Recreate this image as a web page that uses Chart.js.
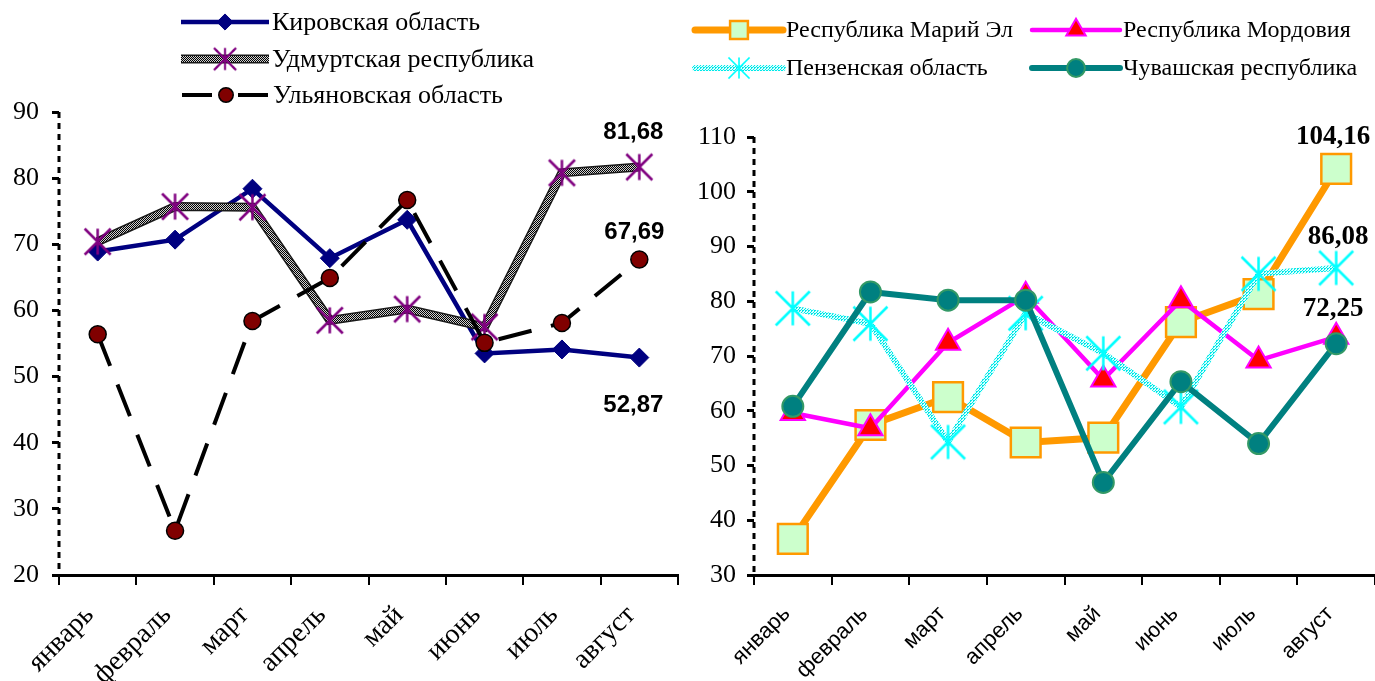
<!DOCTYPE html>
<html>
<head>
<meta charset="utf-8">
<script src="https://cdn.jsdelivr.net/npm/chart.js@4.4.1/dist/chart.umd.min.js"></script>
<style>
  html, body { margin: 0; padding: 0; background: #fff; }
  #wrap { position: relative; width: 1375px; height: 681px; overflow: hidden; }
  #left { position: absolute; left: 0; top: 0; width: 690px; height: 681px; }
  #right { position: absolute; left: 690px; top: 0; width: 685px; height: 681px; }
</style>
</head>
<body>
<div id="wrap">
  <div id="left"><canvas id="leftChart"></canvas></div>
  <div id="right"><canvas id="rightChart"></canvas></div>
</div>
<script>
// Categories
const months = ['январь', 'февраль', 'март', 'апрель', 'май', 'июнь', 'июль', 'август'];

// Left chart series
const kirov = [68.9, 70.7, 78.4, 67.9, 73.7, 53.5, 54.1, 52.87];
const udmurt = [70.4, 75.7, 75.6, 58.5, 60.2, 57.5, 80.8, 81.68];
const ulyanovsk = [56.4, 26.7, 58.4, 64.9, 76.7, 55.1, 58.1, 67.69];

// Right chart series
const mariEl = [36.6, 57.4, 62.5, 54.2, 55.1, 76.2, 81.3, 104.16];
const mordovia = [59.6, 56.8, 72.4, 81.0, 65.7, 80.2, 69.2, 73.5];
const penza = [78.7, 75.9, 54.3, 77.8, 70.5, 60.7, 85.0, 86.08];
const chuvash = [60.8, 81.7, 80.2, 80.2, 46.9, 65.3, 54.0, 72.25];

// Series names
const leftNames = ['Кировская область', 'Удмуртская республика', 'Ульяновская область'];
const rightNames = ['Республика Марий Эл', 'Республика Мордовия', 'Пензенская область', 'Чувашская республика'];

// Y axis ranges
const leftY = { min: 20, max: 90, step: 10 };
const rightY = { min: 30, max: 110, step: 10 };

// Small textures for the hatched lines
function texture(on, off, cells) {
  const n = cells.length;
  const p = document.createElement('canvas');
  p.width = n; p.height = n;
  const g = p.getContext('2d');
  g.fillStyle = off; g.fillRect(0, 0, n, n);
  g.fillStyle = on;
  cells.forEach((row, y) => row.forEach((v, x) => { if (v) g.fillRect(x, y, 1, 1); }));
  return g.createPattern(p, 'repeat');
}

// Asterisk marker: vertical stroke plus an X
function asterisk(color, s, lw) {
  const c = document.createElement('canvas');
  const size = Math.ceil(2 * s + lw + 2);
  c.width = size; c.height = size;
  const g = c.getContext('2d');
  const m = size / 2;
  g.strokeStyle = color; g.lineWidth = lw;
  g.beginPath();
  g.moveTo(m, m - s); g.lineTo(m, m + s);
  g.moveTo(m - s, m - s); g.lineTo(m + s, m + s);
  g.moveTo(m + s, m - s); g.lineTo(m - s, m + s);
  g.stroke();
  return c;
}

function drawMarker(ctx, ds, x, y, scale) {
  if (!ds.pointStyle || ds.pointRadius === 0) return;
  ctx.save();
  ctx.setLineDash([]);
  if (ds.pointStyle instanceof HTMLCanvasElement) {
    const w = ds.pointStyle.width * scale, h = ds.pointStyle.height * scale;
    ctx.drawImage(ds.pointStyle, x - w / 2, y - h / 2, w, h);
  } else {
    ctx.fillStyle = ds.pointBackgroundColor;
    ctx.strokeStyle = ds.pointBorderColor;
    ctx.lineWidth = ds.pointBorderWidth;
    Chart.helpers.drawPoint(ctx, { pointStyle: ds.pointStyle, radius: ds.pointRadius * scale, borderWidth: ds.pointBorderWidth, rotation: 0 }, x, y);
  }
  ctx.restore();
}

// Dashed vertical axis line
const dashedAxis = {
  id: 'dashedAxis',
  beforeDatasetsDraw(chart, args, opts) {
    const { ctx, chartArea } = chart;
    ctx.save();
    ctx.strokeStyle = '#000';
    ctx.lineWidth = 3;
    ctx.setLineDash(opts.dash);
    ctx.beginPath();
    ctx.moveTo(chartArea.left, chartArea.top);
    ctx.lineTo(chartArea.left, chartArea.bottom);
    ctx.stroke();
    ctx.restore();
  }
};

// Legend drawn by hand: line sample with the marker in the middle
const sampleLegend = {
  id: 'sampleLegend',
  afterDraw(chart, args, opts) {
    const ctx = chart.ctx;
    opts.items.forEach(it => {
      it.lines.forEach(i => {
        const ds = chart.data.datasets[i];
        ctx.save();
        ctx.strokeStyle = ds.borderColor;
        ctx.lineWidth = ds.borderWidth;
        ctx.lineCap = opts.cap || 'butt';
        ctx.setLineDash(it.dash || []);
        ctx.beginPath();
        ctx.moveTo(it.x, it.y);
        ctx.lineTo(it.x + opts.len, it.y);
        ctx.stroke();
        ctx.restore();
      });
      drawMarker(ctx, chart.data.datasets[it.marker], it.x + opts.len / 2, it.y, it.scale || opts.markerScale);
      ctx.save();
      ctx.font = opts.font;
      ctx.fillStyle = '#000';
      ctx.textBaseline = 'middle';
      ctx.fillText(it.text, it.x + opts.len + 3, it.y + 1);
      ctx.restore();
    });
  }
};

// Value labels at the last point of some series
const valueLabels = {
  id: 'valueLabels',
  afterDatasetsDraw(chart, args, opts) {
    const ctx = chart.ctx;
    ctx.save();
    ctx.font = opts.font;
    ctx.fillStyle = '#000';
    ctx.textAlign = 'center';
    ctx.textBaseline = 'middle';
    opts.items.forEach(it => {
      const pt = chart.getDatasetMeta(it.ds).data[it.idx];
      const v = chart.data.datasets[it.ds].data[it.idx];
      ctx.fillText(v.toFixed(2).replace('.', ','), pt.x + it.dx, pt.y + it.dy);
    });
    ctx.restore();
  }
};

function axes(range, yWidth, yPad, xHeight, xFont, xPad, xShift) {
  return {
    x: {
      offset: true,
      afterFit(s) { s.height = xHeight; s.paddingLeft = 0; s.paddingRight = 0; },
      border: { display: true, color: '#000', width: 3 },
      grid: { display: true, offset: true, drawOnChartArea: false, drawTicks: true, tickLength: 10, color: '#000', lineWidth: 2 },
      ticks: { color: '#000', font: xFont, minRotation: 45, maxRotation: 45, padding: xPad, labelOffset: xShift, autoSkip: false }
    },
    y: {
      min: range.min, max: range.max,
      afterFit(s) { s.width = yWidth; s.paddingTop = 0; s.paddingBottom = 0; },
      border: { display: false },
      grid: { display: true, drawOnChartArea: false, drawTicks: true, tickLength: 7, color: '#000', lineWidth: 3 },
      ticks: { stepSize: range.step, color: '#000', padding: yPad, font: { family: 'Liberation Serif', size: 26 } }
    }
  };
}

const baseOptions = {
  responsive: true,
  maintainAspectRatio: false,
  animation: false,
  events: [],
  clip: false
};

// Left chart
const udmurtTexture = texture('#000000', '#d0d0d0', [[1, 0], [0, 1]]);
const leftChart = new Chart(document.getElementById('leftChart'), {
  type: 'line',
  data: {
    labels: months,
    datasets: [
      {
        label: leftNames[0], data: kirov, order: 3,
        borderColor: '#000080', borderWidth: 4.5,
        pointStyle: 'rectRot', pointRadius: 9.5,
        pointBackgroundColor: '#000080', pointBorderColor: '#000080', pointBorderWidth: 1
      },
      {
        label: 'udmurt-edge', data: udmurt, order: 2.5,
        borderColor: '#1a1a1a', borderWidth: 9, pointRadius: 0, pointStyle: false
      },
      {
        label: leftNames[1], data: udmurt, order: 2,
        borderColor: udmurtTexture, borderWidth: 6,
        pointStyle: asterisk('#800080', 13, 2.5), pointRadius: 13,
        pointBackgroundColor: '#800080', pointBorderColor: '#800080', pointBorderWidth: 0
      },
      {
        label: leftNames[2], data: ulyanovsk, order: 1,
        borderColor: '#000000', borderWidth: 4, borderDash: [34, 20],
        pointStyle: 'circle', pointRadius: 8.5,
        pointBackgroundColor: '#800000', pointBorderColor: '#000000', pointBorderWidth: 1.5
      }
    ]
  },
  options: {
    ...baseOptions,
    layout: { autoPadding: false, padding: { top: 112, right: 12, left: 0, bottom: 0 } },
    scales: axes(leftY, 59, 13, 106, { family: 'Liberation Serif', size: 28 }, 14, -8),
    plugins: {
      legend: { display: false },
      tooltip: { enabled: false },
      dashedAxis: { dash: [6, 5] },
      sampleLegend: {
        len: 88, font: '26px "Liberation Serif"', markerScale: 0.85,
        items: [
          { lines: [0], marker: 0, x: 181, y: 22, text: leftNames[0] },
          { lines: [1, 2], marker: 2, x: 181, y: 59, text: leftNames[1] },
          { lines: [3], marker: 3, x: 182, y: 95, text: leftNames[2], dash: [30, 26] }
        ]
      },
      valueLabels: {
        font: 'bold 24px "Liberation Sans"',
        items: [
          { ds: 2, idx: 7, dx: -6, dy: -35 },
          { ds: 3, idx: 7, dx: -5, dy: -27 },
          { ds: 0, idx: 7, dx: -6, dy: 48 }
        ]
      }
    }
  },
  plugins: [dashedAxis, sampleLegend, valueLabels]
});

// Right chart
const penzaTexture = texture('#00e8e8', '#d8ffff', [[1, 0, 0], [0, 1, 1], [0, 1, 0]]);
const rightChart = new Chart(document.getElementById('rightChart'), {
  type: 'line',
  data: {
    labels: months,
    datasets: [
      {
        label: rightNames[0], data: mariEl, order: 4,
        borderColor: '#ff9900', borderWidth: 7,
        pointStyle: 'rect', pointRadius: 21,
        pointBackgroundColor: '#ccffcc', pointBorderColor: '#ff9900', pointBorderWidth: 2.5
      },
      {
        label: rightNames[1], data: mordovia, order: 3,
        borderColor: '#ff00ff', borderWidth: 4.5,
        pointStyle: 'triangle', pointRadius: 14,
        pointBackgroundColor: '#ff0000', pointBorderColor: '#ff00ff', pointBorderWidth: 2
      },
      {
        label: rightNames[2], data: penza, order: 2,
        borderColor: penzaTexture, borderWidth: 6,
        pointStyle: asterisk('#00ffff', 17, 2.5), pointRadius: 17,
        pointBackgroundColor: '#00ffff', pointBorderColor: '#00ffff', pointBorderWidth: 0
      },
      {
        label: rightNames[3], data: chuvash, order: 1,
        borderColor: '#008080', borderWidth: 6,
        pointStyle: 'circle', pointRadius: 10.5,
        pointBackgroundColor: '#008080', pointBorderColor: '#339966', pointBorderWidth: 2
      }
    ]
  },
  options: {
    ...baseOptions,
    layout: { autoPadding: false, padding: { top: 137, right: 0, left: 0, bottom: 0 } },
    scales: axes(rightY, 64, 11, 106, { family: 'Liberation Sans', size: 22 }, 16, -6),
    plugins: {
      legend: { display: false },
      tooltip: { enabled: false },
      dashedAxis: { dash: [6, 5] },
      sampleLegend: {
        len: 88, font: '24px "Liberation Serif"', markerScale: 0.8, cap: 'round',
        items: [
          { lines: [0], marker: 0, x: 5, y: 30, text: rightNames[0], scale: 0.6 },
          { lines: [1], marker: 1, x: 342, y: 30, text: rightNames[1] },
          { lines: [2], marker: 2, x: 5, y: 68, text: rightNames[2], scale: 0.62 },
          { lines: [3], marker: 3, x: 342, y: 68, text: rightNames[3], scale: 0.85 }
        ]
      },
      valueLabels: {
        font: 'bold 27px "Liberation Serif"',
        items: [
          { ds: 0, idx: 7, dx: -3, dy: -32 },
          { ds: 2, idx: 7, dx: 2, dy: -31 },
          { ds: 3, idx: 7, dx: -3, dy: -35 }
        ]
      }
    }
  },
  plugins: [dashedAxis, sampleLegend, valueLabels]
});
</script>
</body>
</html>
